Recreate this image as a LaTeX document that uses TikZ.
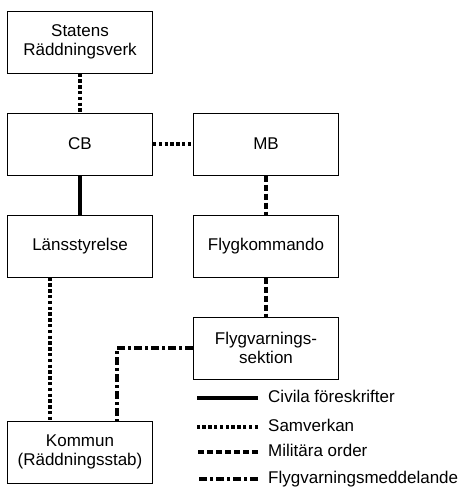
\documentclass[tikz,border=0pt]{standalone}
\usepackage{fontspec}
\setmainfont{Liberation Sans}
\begin{document}
\begin{tikzpicture}[x=1pt, y=1pt, node distance=102pt,
    box/.style={draw, rectangle, line width=1pt, minimum width=145pt, minimum height=62pt, text centered, align=center, font=\fontsize{17}{19.5}\selectfont},
    civil/.style={line width=4pt},
    samverkan/.style={line width=3.6pt, dash pattern=on 3.4pt off 2.4pt},
    militar/.style={line width=3.8pt, dash pattern=on 6pt off 3pt},
    flygvarn/.style={line width=3.8pt, dash pattern=on 8pt off 3pt on 3pt off 3pt},
    legendtext/.style={anchor=west, inner sep=0pt, text height=12pt, text depth=3.5pt, font=\fontsize{17}{19.5}\selectfont}]

    \useasboundingbox (0,0) rectangle (465,-490);

    % Nodes
    \node (srv) [box] at (80,-42) {Statens\\Räddningsverk};
    \node (cb) [box, below of=srv] {CB};
    \node (mb) [box, node distance=186pt, right of=cb] {MB};
    \node (lans) [box, below of=cb] {Länsstyrelse};
    \node (flygk) [box, below of=mb] {Flygkommando};
    \node (fvs) [box, below of=flygk] {Flygvarnings-\\sektion};
    \node (kommun) [box, node distance=206pt, below of=lans] {Kommun\\(Räddningsstab)};

    % Connections
    \draw [samverkan] (srv) -- (cb);
    \draw [samverkan] (cb) -- (mb);
    \draw [civil] (cb) -- (lans);
    \draw [militar] (mb) -- (flygk);
    \draw [militar] (flygk) -- (fvs);
    \draw [samverkan] ([xshift=-30pt]lans.south) -- ([xshift=-30pt]kommun.north);
    \draw [flygvarn] (fvs.west) -| ([xshift=37pt]kommun.north);

    % Legend
    \node (lg1) [legendtext] at (268,-398) {Civila föreskrifter};
    \node (lg2) [legendtext] at (268,-427) {Samverkan};
    \node (lg3) [legendtext] at (268,-452) {Militära order};
    \node (lg4) [legendtext] at (268,-479) {Flygvarningsmeddelande};
    \draw [civil] ([xshift=-10pt]lg1.west) -- ++(-61,0);
    \draw [samverkan] ([xshift=-10pt]lg2.west) -- ++(-61,0);
    \draw [militar] ([xshift=-10pt]lg3.west) -- ++(-61,0);
    \draw [flygvarn] ([xshift=-10pt]lg4.west) -- ++(-61,0);

\end{tikzpicture}
\end{document}
